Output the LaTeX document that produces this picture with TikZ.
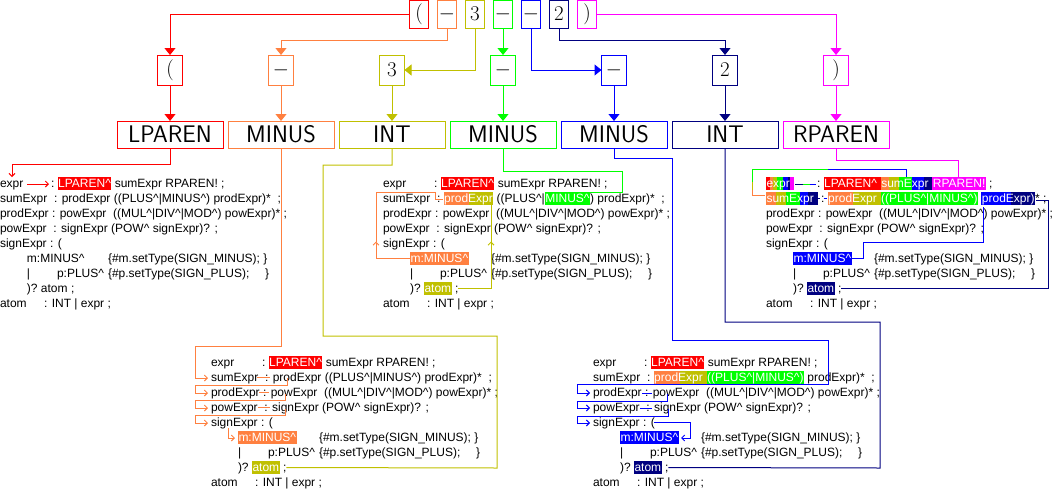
\documentclass[tikz,border=0pt]{standalone}
\usepackage{fontspec}
\newfontfamily\arialf{Liberation Sans}
\usetikzlibrary{arrows.meta}
\definecolor{cR}{HTML}{FF0000}
\definecolor{cO}{HTML}{FF8040}
\definecolor{cY}{HTML}{C0C000}
\definecolor{cG}{HTML}{00FF00}
\definecolor{cB}{HTML}{0000FF}
\definecolor{cN}{HTML}{000080}
\definecolor{cM}{HTML}{FF00FF}
\newcommand\cf{\textasciicircum}
\newsavebox\hlbox
\newlength\hlw
\newcommand\mhl[2]{\begingroup\sbox\hlbox{\color{white}\kern0.5pt#2\kern0.5pt}\setlength\hlw{\wd\hlbox}%
\foreach \hc/\hf in {#1}{\textcolor{\hc}{\rule[-2.5pt]{\hf\hlw}{13pt}}}%
\llap{\usebox\hlbox}\endgroup}
\newcommand\hl[2]{\mhl{#1/1}{#2}}
% #1 prefix, #2 x, #3 baseline, #4 L1 head, #5 L1 tail, #6 L2, #7 L6 word, #8 L8 word
\newcommand\stdblock[8]{%
\node[gl] (#1-1) at (#2,#3) {#4};
\node[gl] (#1-1c) at ({#2+51},#3) {:\ #5};
\node[gl] (#1-2) at (#2,{#3+15}) {#6};
\node[gl] (#1-3) at (#2,{#3+30}) {prodExpr : powExpr\ \ ((MUL\cf|DIV\cf|MOD\cf) powExpr)* ;};
\node[gl] (#1-4) at (#2,{#3+45}) {powExpr\ \ : signExpr (POW\cf\ signExpr)? ;};
\node[gl] (#1-5) at (#2,{#3+60}) {signExpr : (};
\node[gl] (#1-6) at ({#2+27},{#3+75}) {#7};
\node[gl] (#1-6b) at ({#2+108},{#3+75}) {\{\#m.setType(SIGN\_MINUS); \}};
\node[gl] (#1-7) at ({#2+27},{#3+90}) {|};
\node[gl] (#1-7b) at ({#2+57},{#3+90}) {p:PLUS\cf};
\node[gl] (#1-7c) at ({#2+108},{#3+90}) {\{\#p.setType(SIGN\_PLUS);};
\node[gl] (#1-7d) at ({#2+265},{#3+90}) {\}};
\node[gl] (#1-8) at ({#2+27},{#3+105}) {)?\ #8\ ;};
\node[gl] (#1-9) at (#2,{#3+120}) {atom};
\node[gl] (#1-9b) at ({#2+44},{#3+120}) {: INT | expr ;};
}
\begin{document}
\begin{tikzpicture}[x=1pt,y=-1pt,line width=1pt,
 gl/.style={anchor=base west,inner sep=0pt,outer sep=0pt,font=\arialf\fontsize{12}{12}\selectfont,execute at begin node={\rule[-2.5pt]{0pt}{13pt}}},
 tokA/.style={draw,minimum width=19pt,minimum height=28pt,inner sep=0pt,outer sep=0pt,font=\fontsize{21}{21}\selectfont},
 tokB/.style={draw,minimum width=25pt,minimum height=30pt,inner sep=0pt,outer sep=0pt,font=\fontsize{21}{21}\selectfont},
 tokC/.style={draw,minimum width=106pt,minimum height=27pt,inner sep=0pt,outer sep=0pt,font=\sffamily\fontsize{24}{24}\selectfont},
 big/.style={-{Triangle[length=7pt,width=11pt]}},
 sa/.style={-{Straight Barb[length=3pt,width=6pt]}}]
\useasboundingbox (0,0) rectangle (1052,493);

% row 1
\node[tokA,draw=cR] (t1a) at (419,14) {(};
\node[tokA,draw=cO] (t1b) at (447,14) {$-$};
\node[tokA,draw=cY] (t1c) at (475,14) {3};
\node[tokA,draw=cG] (t1d) at (503,14) {$-$};
\node[tokA,draw=cB] (t1e) at (531,14) {$-$};
\node[tokA,draw=cN] (t1f) at (559,14) {2};
\node[tokA,draw=cM] (t1g) at (587,14) {)};
% row 2
\node[tokB,draw=cR] (t2a) at (170,70) {(};
\node[tokB,draw=cO] (t2b) at (281,70) {$-$};
\node[tokB,draw=cY] (t2c) at (392,70) {3};
\node[tokB,draw=cG] (t2d) at (503,70) {$-$};
\node[tokB,draw=cB] (t2e) at (614,70) {$-$};
\node[tokB,draw=cN] (t2f) at (725,70) {2};
\node[tokB,draw=cM] (t2g) at (836,70) {)};
% row 3
\node[tokC,draw=cR] (t3a) at (170,134.5) {LPAREN};
\node[tokC,draw=cO] (t3b) at (281,134.5) {MINUS};
\node[tokC,draw=cY] (t3c) at (392,134.5) {INT};
\node[tokC,draw=cG] (t3d) at (503,134.5) {MINUS};
\node[tokC,draw=cB] (t3e) at (614,134.5) {MINUS};
\node[tokC,draw=cN] (t3f) at (725,134.5) {INT};
\node[tokC,draw=cM] (t3g) at (836,134.5) {RPAREN};

% row 1 -> row 2
\draw[cR,big] (t1a.west) -| (t2a.north);
\draw[cO,big] (t1b.south) -- ++(0,12) -| (t2b.north);
\draw[cY,big] (t1c.south) |- (t2c.east);
\draw[cG,big] (t1d.south) -- (t2d.north);
\draw[cB,big] (t1e.south) |- (t2e.west);
\draw[cN,big] (t1f.south) -- ++(0,12) -| (t2f.north);
\draw[cM,big] (t1g.east) -| (t2g.north);
% row 2 -> row 3
\draw[cR,big] (t2a.south) -- (t3a.north);
\draw[cO,big] (t2b.south) -- (t3b.north);
\draw[cY,big] (t2c.south) -- (t3c.north);
\draw[cG,big] (t2d.south) -- (t3d.north);
\draw[cB,big] (t2e.south) -- (t3e.north);
\draw[cN,big] (t2f.south) -- (t3f.north);
\draw[cM,big] (t2g.south) -- (t3g.north);

% grammar blocks
\stdblock{b1}{0}{187.5}{expr}{\hl{cR}{LPAREN\cf} sumExpr RPAREN! ;}{sumExpr\ \ : prodExpr ((PLUS\cf|MINUS\cf) prodExpr)*\ \ ;}{m:MINUS\cf}{atom}
\stdblock{b2}{383}{187.5}{expr}{\hl{cR}{LPAREN\cf} sumExpr RPAREN! ;}{sumExpr\ \ :\ \mhl{cO/.5,cY/.5}{prodExpr} ((PLUS\cf|\hl{cG}{MINUS\cf}) prodExpr)*\ \ ;}{\hl{cO}{m:MINUS\cf}}{\hl{cY}{atom}}
\stdblock{b3}{766}{187.5}{\mhl{cR/.15,cO/.09,cY/.16,cG/.23,cB/.15,cN/.08,cM/.14}{expr\ }}{\hl{cR}{LPAREN\cf\ }\mhl{cO/.16,cY/.2,cG/.24,cB/.24,cN/.16}{sumExpr\ }\hl{cM}{RPAREN!} ;}{\mhl{cO/.19,cY/.19,cG/.28,cB/.15,cN/.19}{sumExpr\ }\ :\ \mhl{cO/.48,cY/.52}{prodExpr\ }\hl{cG}{((PLUS\cf|MINUS\cf)} \mhl{cB/.55,cN/.45}{prodExpr)}*\ ;}{\hl{cB}{m:MINUS\cf}}{\hl{cN}{atom}}
\stdblock{b4}{211}{366.5}{expr}{\hl{cR}{LPAREN\cf} sumExpr RPAREN! ;}{sumExpr\ \ : prodExpr ((PLUS\cf|MINUS\cf) prodExpr)*\ \ ;}{\hl{cO}{m:MINUS\cf}}{\hl{cY}{atom}}
\stdblock{b5}{593}{366.5}{expr}{\hl{cR}{LPAREN\cf} sumExpr RPAREN! ;}{sumExpr\ \ :\ \mhl{cO/.5,cY/.5}{prodExpr\ }\hl{cG}{((PLUS\cf|MINUS\cf)} prodExpr)*\ \ ;}{\hl{cB}{m:MINUS\cf}}{\hl{cN}{atom}}

% block 1 (red)
\coordinate (b1in) at (12,177);
\coordinate (b1ea) at (27,184);
\coordinate (b1eb) at (49,184);
\draw[cR,sa] (t3a.south) -- ++(0,16) -| (b1in);
\draw[cR,sa] (b1ea) -- (b1eb);

% block 2
\coordinate (b2o2) at (376,241.5);
\coordinate (b2o3) at (435,192.5);
\coordinate (b2o4) at (443,199.5);
\draw[cO,sa] (b2-6.west) -| (b2o2);
\draw[cO] (b2o2) |- (b2o3) |- (b2o4);
\coordinate (b2y1) at (491,241.5);
\coordinate (b2y2) at (491,196.5);
\draw[cY,sa] (b2-8.east) -| (b2y1);
\draw[cY] (b2y1) -- (b2y2);
\coordinate (b2g1) at (622,192);
\coordinate (b2g2) at (588,192);
\draw[cG] (t3d.south) -- ++(0,23) -| (b2g1) -- (b2g2);

% block 3
\coordinate (b3m) at (958,177);
\draw[cM] (t3g.south) -- ++(0,12) -| (b3m);
\draw[cG] (752,182) -- (752,169) -- (828,169);
\draw[cB] (828,169) -- (906,169) -- (906,177);
\draw[cY] (752,182) -- (752,190);
\draw[cO] (752,190) -- (752,195) -- (765,195);
\draw[cN] (795,184) -- (803,184);
\draw[cG] (803,184) -- (810,184);
\draw[cB] (810,184) -- (816,184);
\draw[cN] (817.5,198.5) -- (820,198.5);
\draw[cB] (823.5,198.5) -- (827,198.5);
\coordinate (b3b1) at (863,242);
\coordinate (b3b2) at (983,207);
\draw[cB] (b3-6.east) -| (b3b1) -| (b3b2);
\coordinate (b3n1) at (1048,200);
\coordinate (b3n2) at (1036,200);
\draw[cN] (b3-8.east) -| (b3n1) -- (b3n2);

% block 4 (orange, olive)
\coordinate (b4o1) at (195,378);
\coordinate (b4o2) at (208,378);
\draw[cO,sa] (t3b.south) -- ++(0,198) -| (b4o1) -- (b4o2);
\draw[cO] (257,377.5) -- (270,377.5);
\draw[cO,sa] (287,378) -- (287,385) -- (195,385) -- (195,393) -- (208,393);
\draw[cO] (259,392.5) -- (269,392.5);
\draw[cO,sa] (285,394) -- (285,400) -- (195,400) -- (195,408) -- (208,408);
\draw[cO] (258,407.5) -- (270,407.5);
\draw[cO,sa] (285,409) -- (285,415) -- (195,415) -- (195,423) -- (208,423);
\draw[cO,sa] (228,428) -- (228,438) -- (235,438);
\coordinate (b4y1) at (323,336);
\coordinate (b4y2) at (497,468);
\draw[cY] (t3c.south) -- ++(0,17) -| (b4y1) -| (b4y2) -- (b4-8.east);

% block 5 (blue, navy)
\coordinate (b5b1) at (672,340);
\coordinate (b5b2) at (828,384);
\coordinate (b5b3) at (577,393);
\coordinate (b5b4) at (590,393);
\draw[cB,sa] (t3e.south) -- ++(0,10) -| (b5b1) -| (b5b2) -| (b5b3) -- (b5b4);
\draw[cB] (642,393) -- (652,393);
\draw[cB,sa] (667,394) -- (667,401) -- (577,401) -- (577,408) -- (590,408);
\draw[cB] (640,408) -- (652,408);
\draw[cB,sa] (668,409) -- (668,416) -- (577,416) -- (577,423) -- (590,423);
\draw[cB,sa] (654,422) -- (690,422) -- (690,438) -- (681,438);
\coordinate (b5n1) at (880,468);
\draw[cN] (t3f.south) -- ++(0,174) -| (b5n1) -- (b5-8.east);
\end{tikzpicture}
\end{document}
